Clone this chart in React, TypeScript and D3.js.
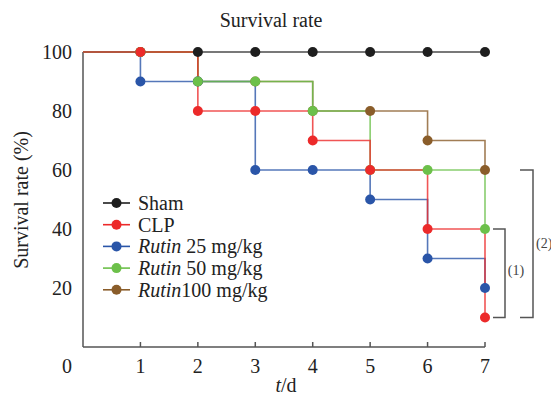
import React from 'react';
import * as d3 from 'd3';

// Survival data (days 0..7, % alive)
const days = [0, 1, 2, 3, 4, 5, 6, 7];
const sham = [100, 100, 100, 100, 100, 100, 100, 100];
const clp = [100, 100, 80, 80, 70, 60, 40, 10];
const rutin25 = [100, 90, 90, 60, 60, 50, 30, 20];
const rutin50 = [100, 100, 90, 90, 80, 60, 60, 40];
const rutin100 = [100, 100, 90, 90, 80, 80, 70, 60];

const xTicks = [1, 2, 3, 4, 5, 6, 7];
const yTicks = [20, 40, 60, 80, 100];

interface Series {
  key: string;
  italic: string;
  label: string;
  values: number[];
  color: string;
}

const series: Series[] = [
  { key: 'sham', italic: '', label: 'Sham', values: sham, color: '#1e1e1e' },
  { key: 'clp', italic: '', label: 'CLP', values: clp, color: '#ec2a2a' },
  { key: 'r25', italic: 'Rutin', label: ' 25 mg/kg', values: rutin25, color: '#2a55a8' },
  { key: 'r50', italic: 'Rutin', label: ' 50 mg/kg', values: rutin50, color: '#6cc04a' },
  { key: 'r100', italic: 'Rutin', label: '100 mg/kg', values: rutin100, color: '#8a5d2a' },
];

// order in which the marks are stacked (last on top)
const drawOrder = ['sham', 'r100', 'r25', 'r50', 'clp'];

const font = "'Liberation Serif', 'DejaVu Serif', serif";
const axisColor = '#555';

const App: React.FC = () => {
  const width = 551;
  const height = 397;

  const x = d3.scaleLinear().domain([0, 7]).range([83, 485]);
  const y = d3.scaleLinear().domain([0, 100]).range([347, 52]);

  const line = d3
    .line<number>()
    .x((_, i) => x(days[i]))
    .y(d => y(d))
    .curve(d3.curveStepAfter);

  const ordered = drawOrder.map(k => series.find(s => s.key === k) as Series);

  // bracket helper, values in data units
  const bracket = (x0: number, x1: number, v0: number, v1: number) =>
    `M${x0},${y(v0)}H${x1}V${y(v1)}H${x0}`;

  return (
    <svg
      width={width}
      height={height}
      style={{ position: 'absolute', left: 0, top: 0, background: '#fff', fontFamily: font }}
    >
      {/* title */}
      <text x={271} y={27} textAnchor="middle" fontSize={20} fill="#222">
        Survival rate
      </text>

      {/* axes */}
      <line x1={x(0)} x2={x(0)} y1={y(0)} y2={y(100)} stroke={axisColor} strokeWidth={1.5} />
      <line x1={x(0)} x2={x(7)} y1={y(0)} y2={y(0)} stroke={axisColor} strokeWidth={1.5} />
      {xTicks.map(t => (
        <g key={'xt' + t}>
          <line x1={x(t)} x2={x(t)} y1={y(0)} y2={y(0) - 5} stroke={axisColor} strokeWidth={1.5} />
          <text x={x(t)} y={373} textAnchor="middle" fontSize={20} fill="#222">
            {t}
          </text>
        </g>
      ))}
      <text x={67} y={373} textAnchor="middle" fontSize={20} fill="#222">
        0
      </text>
      {yTicks.map(t => (
        <text key={'yt' + t} x={72} y={y(t)} dy="0.35em" textAnchor="end" fontSize={20} fill="#222">
          {t}
        </text>
      ))}

      {/* axis labels */}
      <text
        transform={`translate(28,${200}) rotate(-90)`}
        textAnchor="middle"
        fontSize={20}
        fill="#222"
      >
        Survival rate (%)
      </text>
      <text x={286} y={392} textAnchor="middle" fontSize={20} fill="#222">
        <tspan fontStyle="italic">t</tspan>/d
      </text>

      {/* step lines */}
      {ordered.map(s => (
        <path key={'l' + s.key} d={line(s.values) || ''} fill="none" stroke={s.color} strokeOpacity={0.8} strokeWidth={1.6} />
      ))}

      {/* markers */}
      {ordered.map(s => (
        <g key={'m' + s.key} fill={s.color}>
          {s.values.map((v, i) =>
            days[i] === 0 ? null : <circle key={i} cx={x(days[i])} cy={y(v)} r={5} />
          )}
        </g>
      ))}

      {/* legend */}
      {series.map((s, i) => {
        const ly = 203 + i * 21.7;
        return (
          <g key={'lg' + s.key}>
            <line x1={103} x2={130} y1={ly} y2={ly} stroke={s.color} strokeWidth={1.6} />
            <circle cx={116.5} cy={ly} r={5} fill={s.color} />
            <text x={138} y={ly} dy="0.35em" fontSize={20} fill="#222">
              {s.italic && <tspan fontStyle="italic">{s.italic}</tspan>}
              {s.label}
            </text>
          </g>
        );
      })}

      {/* significance brackets */}
      <path d={bracket(493, 505, 40, 10)} fill="none" stroke={axisColor} strokeWidth={1.5} />
      <text x={516} y={270} dy="0.35em" textAnchor="middle" fontSize={14} fill="#444">
        (1)
      </text>
      <path d={bracket(520, 533, 60, 10)} fill="none" stroke={axisColor} strokeWidth={1.5} />
      <text x={536} y={243} dy="0.35em" fontSize={14} fill="#444">
        (2)
      </text>
    </svg>
  );
};

export default App;
